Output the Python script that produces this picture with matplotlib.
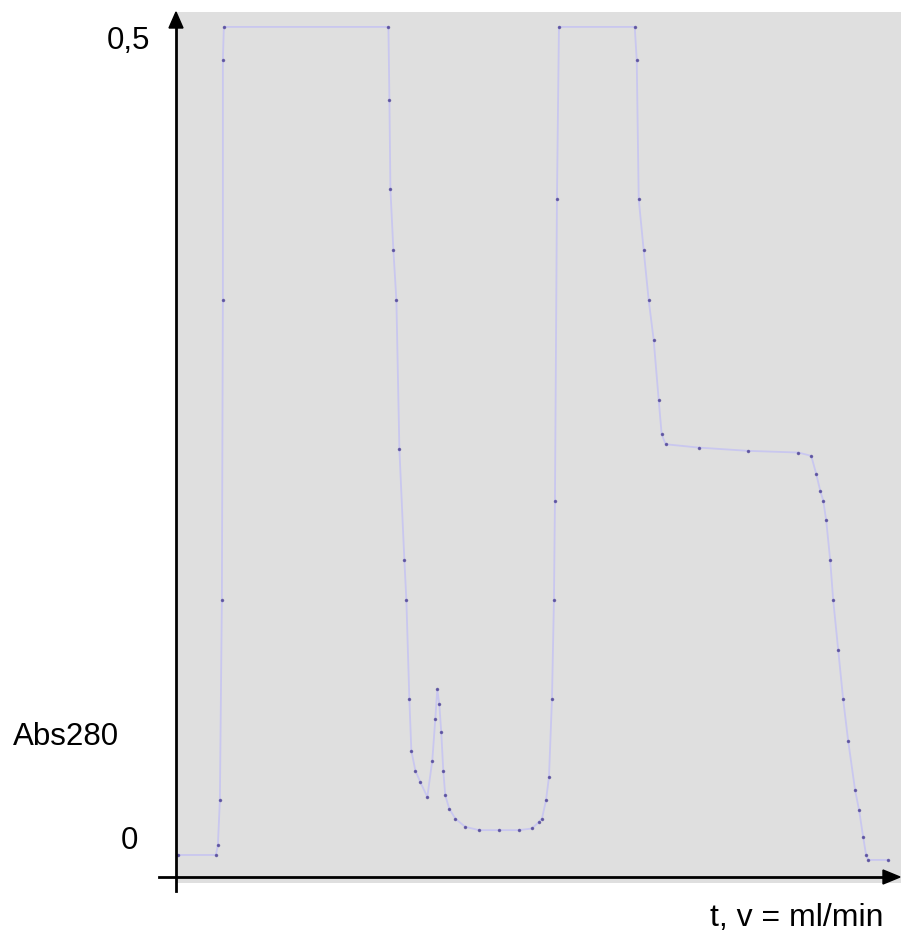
import matplotlib.pyplot as plt
from matplotlib.patches import Rectangle

plt.rcParams['font.family'] = ['Liberation Sans', 'DejaVu Sans']

# chromatogram trace (t in arbitrary units, Abs280)
t = [0.0, 3.8, 4.0, 4.2, 4.4, 4.5, 4.5, 4.6, 21.1, 21.2, 21.3, 21.6, 21.9,
     22.2, 22.7, 22.9, 23.2, 23.4, 23.8, 24.3, 25.0, 25.5, 25.8, 26.0, 26.2,
     26.4, 26.6, 26.8, 27.2, 27.8, 28.8, 30.2, 32.2, 34.2, 35.5, 36.2, 36.5,
     36.9, 37.2, 37.5, 37.7, 37.8, 38.0, 38.2, 45.8, 46.0, 46.2, 46.7, 47.2,
     47.7, 48.2, 48.5, 48.9, 52.2, 57.2, 62.2, 63.5, 64.0, 64.4, 64.7, 65.0,
     65.4, 65.7, 66.2, 66.7, 67.2, 67.9, 68.3, 68.7, 69.0, 69.2, 71.2]
absorb = [0.0, 0.0, 0.006, 0.033, 0.154, 0.335, 0.480, 0.500, 0.500, 0.456,
          0.402, 0.365, 0.335, 0.245, 0.178, 0.154, 0.094, 0.063, 0.051, 0.044,
          0.035, 0.057, 0.082, 0.100, 0.091, 0.074, 0.051, 0.036, 0.028, 0.022,
          0.017, 0.015, 0.015, 0.015, 0.016, 0.020, 0.022, 0.033, 0.047, 0.094,
          0.154, 0.214, 0.396, 0.500, 0.500, 0.480, 0.396, 0.365, 0.335, 0.311,
          0.275, 0.254, 0.248, 0.246, 0.244, 0.243, 0.241, 0.230, 0.220, 0.214,
          0.202, 0.178, 0.154, 0.124, 0.094, 0.069, 0.039, 0.027, 0.011, 0.0,
          -0.003, -0.003]

fig = plt.figure(figsize=(9.01, 9.34), dpi=100)
W, H = 901, 934

# scanned grey background
fig.patches.append(Rectangle((177 / W, 1 - 883 / H), (W - 177) / W, (883 - 12) / H,
                             transform=fig.transFigure, facecolor='#dfdfdf',
                             edgecolor='none', zorder=-5))

ax = fig.add_axes([176 / W, 1 - 877 / H, (W - 176) / W, (877 - 12) / H])
ax.set_zorder(1)
ax.patch.set_alpha(0)
ax.plot(t, absorb, color='#c9c7ef', lw=1.3, zorder=2)
ax.plot(t, absorb, ls='none', marker='.', ms=3, color='#4a3f95', alpha=0.7, zorder=3)
ax.set_xlim(-0.2, 72.5)
ax.set_ylim(-0.0133, 0.509)
ax.axis('off')

# axes with arrows
fig.add_artist(plt.Line2D([176 / W, 176 / W], [1 - 891 / H, 1 - 25 / H],
                          transform=fig.transFigure, color='black', lw=2, zorder=5))
fig.add_artist(plt.Line2D([159 / W, 885 / W], [1 - 877 / H, 1 - 877 / H],
                          transform=fig.transFigure, color='black', lw=2, zorder=5))
fig.add_artist(plt.Polygon([[169 / W, 1 - 28 / H], [183 / W, 1 - 28 / H], [176 / W, 1 - 12 / H]],
                           closed=True, transform=fig.transFigure, color='black', zorder=5))
fig.add_artist(plt.Polygon([[883 / W, 1 - 870 / H], [883 / W, 1 - 884 / H], [900 / W, 1 - 877 / H]],
                           closed=True, transform=fig.transFigure, color='black', zorder=5))

fs = 22.5
fig.text(128 / W, 1 - 41 / H, '0,5', fontsize=fs, ha='center', va='center')
fig.text(129 / W, 1 - 841 / H, '0', fontsize=fs, ha='center', va='center')
fig.text(13 / W, 1 - 737 / H, 'Abs280', fontsize=fs, ha='left', va='center')
fig.text(710 / W, 1 - 918 / H, 't, v = ml/min', fontsize=fs + 0.5, ha='left', va='center')

plt.savefig('out.png')
